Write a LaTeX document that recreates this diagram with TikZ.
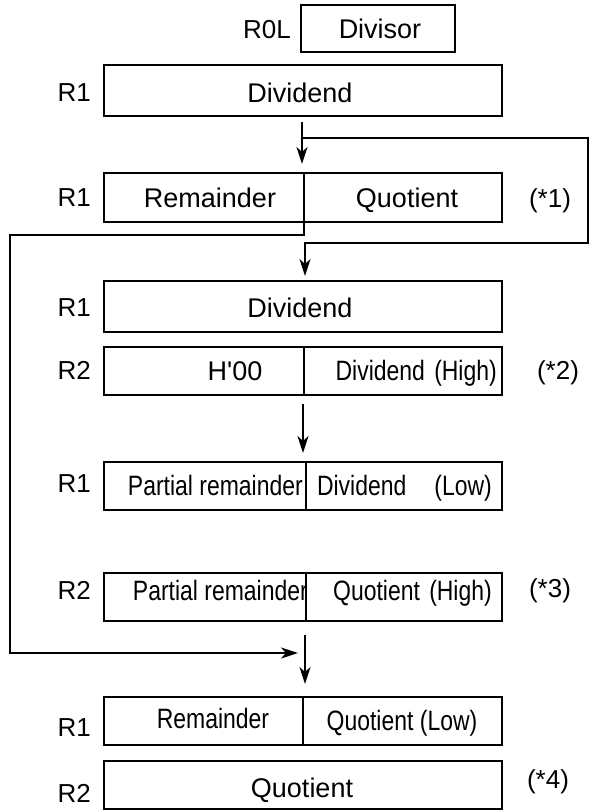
\documentclass[tikz,border=0pt]{standalone}
\usepackage{fontspec}
\setmainfont{Liberation Sans}
\newfontfamily\condfont[FakeStretch=0.82]{Liberation Sans}
\usetikzlibrary{arrows.meta}
\begin{document}
\begin{tikzpicture}[x=1pt,y=-1pt,
  reg/.style={draw, line width=2.4pt, rectangle, inner sep=0pt, outer sep=0pt, anchor=north west, fill=white},
  lbl/.style={inner sep=0pt, anchor=base east, font=\fontsize{26}{30}\selectfont},
  note/.style={inner sep=0pt, anchor=base, font=\fontsize{26}{30}\selectfont},
  txt/.style={inner sep=0pt, anchor=base, font=\fontsize{27}{32}\selectfont},
  ctxt/.style={inner sep=0pt, anchor=base, font=\condfont\fontsize{28}{33}\selectfont},
  conn/.style={line width=2.2pt},
  arr/.style={conn, -{Stealth[length=17pt,width=11pt,inset=5pt]}}]
\useasboundingbox (0,0) rectangle (591,811);

% row 1: divisor
\node[reg, minimum width=154pt, minimum height=47pt] (divisor) at (301,5) {};
\node[txt] (tdivisor) at (380,38) {Divisor};
\node[lbl] (lr0l) at (291,38) {R0L};

% row 2: dividend
\node[reg, minimum width=398pt, minimum height=51pt] (div1) at (104,65) {};
\node[txt] (tdiv1) at (300,102) {Dividend};
\node[lbl] (lr1a) at (91,101) {R1};

% row 3: remainder | quotient
\node[reg, minimum width=200pt, minimum height=49pt] (rem1) at (104,173) {};
\node[reg, minimum width=198pt, minimum height=49pt] (quot1) at (304,173) {};
\node[txt] (trem1) at (210,207) {Remainder};
\node[txt] (tquot1) at (407,207) {Quotient};
\node[lbl] (lr1b) at (91,206) {R1};
\node[note] (n1) at (550,207) {(*1)};

% row 4: dividend
\node[reg, minimum width=398pt, minimum height=51pt] (div2) at (104,281) {};
\node[txt] (tdiv2) at (300,317) {Dividend};
\node[lbl] (lr1c) at (91,316) {R1};

% row 5: H'00 | dividend (high)
\node[reg, minimum width=200pt, minimum height=48pt] (h00) at (104,347) {};
\node[reg, minimum width=198pt, minimum height=48pt] (divhigh) at (304,347) {};
\node[txt] (th00) at (235,380) {H\textquotesingle 00};
\node[ctxt, anchor=base east] (tdivhigh) at (497,380) {Dividend\,\,(High)};
\node[lbl] (lr2a) at (91,379) {R2};
\node[note] (n2) at (558,379) {(*2)};

% row 7: partial remainder | dividend (low)
\node[reg, minimum width=202pt, minimum height=48pt] (pr1) at (104,462) {};
\node[ctxt, anchor=base east] (tpr1) at (303,495) {Partial remainder};
\node[reg, minimum width=196pt, minimum height=48pt] (divlow) at (306,462) {};
\node[ctxt, anchor=base east] (tdivlow) at (492,495) {Dividend\quad(Low)};
\node[lbl] (lr1d) at (91,492) {R1};

% row 8: partial remainder | quotient (high)
\node[reg, minimum width=202pt, minimum height=48pt] (pr2) at (104,573) {};
\node[ctxt, anchor=base east] (tpr2) at (308,600) {Partial remainder};
\node[reg, minimum width=196pt, minimum height=48pt] (quothigh) at (306,573) {};
\node[ctxt, anchor=base east] (tquothigh) at (492,600) {Quotient\,\,(High)};
\node[lbl] (lr2b) at (91,599) {R2};
\node[note] (n3) at (550,597) {(*3)};

% row 10: remainder | quotient (low)
\node[reg, minimum width=199pt, minimum height=48pt] (rem3) at (104,697) {};
\node[reg, minimum width=199pt, minimum height=48pt] (quotlow) at (303,697) {};
\node[ctxt] (trem3) at (213,728) {Remainder};
\node[ctxt] (tquotlow) at (402,730) {Quotient (Low)};
\node[lbl] (lr1e) at (91,736) {R1};

% row 11: quotient
\node[reg, minimum width=398pt, minimum height=48pt] (quot4) at (104,761) {};
\node[txt] (tquot4) at (302,797) {Quotient};
\node[lbl] (lr2c) at (91,802) {R2};
\node[note] (n4) at (548,788) {(*4)};

% connectors
\coordinate (a0) at (302,122);
\coordinate (a1) at (302,164);
\draw[arr] (a0) -- (a1);
\coordinate (b0) at (302,138);
\coordinate (b1) at (588,138);
\coordinate (b2) at (588,243);
\coordinate (b3) at (305,243);
\coordinate (b4) at (305,276);
\draw[arr] (b0) -- (b1) -- (b2) -- (b3) -- (b4);

\coordinate (l1) at (304,235);
\coordinate (l2) at (10,235);
\coordinate (l3) at (10,653);
\coordinate (l4) at (298,653);
\draw[arr] (rem1.south east) -- (l1) -- (l2) -- (l3) -- (l4);

\coordinate (c0) at (303,404);
\coordinate (c1) at (303,453);
\draw[arr] (c0) -- (c1);

\coordinate (d0) at (305,635);
\coordinate (d1) at (305,684);
\draw[arr] (d0) -- (d1);
\end{tikzpicture}
\end{document}
